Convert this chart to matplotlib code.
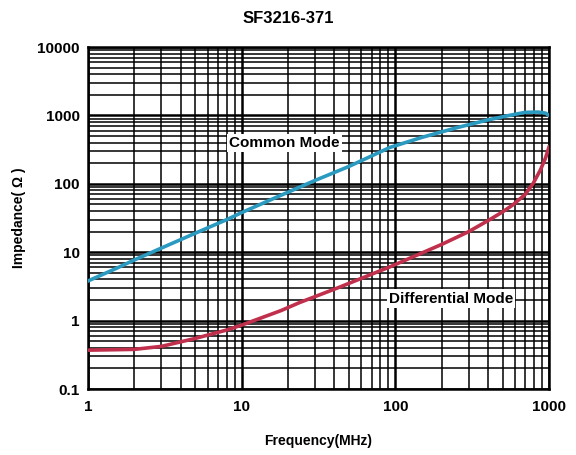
import matplotlib
matplotlib.use('Agg')
from matplotlib import pyplot as plt
from matplotlib.ticker import FixedLocator, NullFormatter

plt.rcParams['font.family'] = ['Liberation Sans', 'DejaVu Sans']

title = 'SF3216-371'
freq_cm = [1, 1.5, 2, 3, 5, 8, 10, 18, 30, 50, 92, 150, 250, 400, 550, 700, 850, 950, 1000]
z_cm = [3.8, 5.7, 7.7, 11.5, 19, 30, 38, 68, 112, 180, 340, 480, 660, 860, 1000, 1110, 1120, 1080, 1000]
freq_dm = [1, 2, 3, 5, 8, 10, 18, 24, 42, 92, 200, 300, 412, 500, 580, 700, 790, 880, 950, 1000]
z_dm = [0.37, 0.38, 0.42, 0.55, 0.73, 0.86, 1.4, 1.85, 3.0, 6.1, 13, 20, 30, 39, 49, 70, 102, 160, 240, 345]
xticks = [1, 10, 100, 1000]
xtick_labels = ['1', '10', '100', '1000']
yticks = [0.1, 1, 10, 100, 1000, 10000]
ytick_labels = ['0.1', '1', '10', '100', '1000', '10000']

fig = plt.figure(figsize=(5.76, 4.55), dpi=100)
ax = fig.add_axes([0.1528, 0.145, 0.8003, 0.7516])

ax.set_xscale('log')
ax.set_yscale('log')
ax.set_xlim(1, 1000)
ax.set_ylim(0.1, 10000)

# grid like the scanned datasheet
minors_x = [m * d for d in [1, 10, 100] for m in range(2, 10)]
minors_y = [m * d for d in [0.1, 1, 10, 100, 1000] for m in range(2, 10)]
ax.xaxis.set_minor_locator(FixedLocator(minors_x))
ax.yaxis.set_minor_locator(FixedLocator(minors_y))
ax.xaxis.set_minor_formatter(NullFormatter())
ax.yaxis.set_minor_formatter(NullFormatter())
ax.grid(which='major', color='black', linewidth=1.8)
ax.grid(which='minor', color='black', linewidth=1.1)
ax.set_axisbelow(True)
ax.tick_params(which='both', length=0)

ax.set_xticks(xticks)
ax.set_xticklabels(xtick_labels)
ax.set_yticks(yticks)
ax.set_yticklabels(ytick_labels)
for lab in ax.get_xticklabels() + ax.get_yticklabels():
    lab.set_fontweight('bold')
    lab.set_fontsize(11)
ax.tick_params(axis='x', pad=8)
ax.tick_params(axis='y', pad=6)

for s in ax.spines.values():
    s.set_linewidth(1.8)

ax.plot(freq_cm, z_cm, color='#2b9ac0', linewidth=2.6, zorder=3)
ax.plot(freq_dm, z_dm, color='#c0304c', linewidth=2.6, zorder=3)

ax.text(19, 400, 'Common Mode', fontsize=11, fontweight='bold', ha='center', va='center',
        bbox=dict(facecolor='white', edgecolor='none', pad=1.5), zorder=4)
ax.text(230, 2.1, 'Differential Mode', fontsize=11, fontweight='bold', ha='center', va='center',
        bbox=dict(facecolor='white', edgecolor='none', pad=1.5), zorder=4)

fig.text(0.5, 0.96, title, fontsize=12, fontweight='bold', ha='center', va='center')
ax.set_xlabel('Frequency(MHz)', fontsize=10, fontweight='bold', labelpad=14)
ax.set_ylabel('Impedance( Ω )', fontsize=10, fontweight='bold', labelpad=8)

fig.savefig('out.png', dpi=100)
